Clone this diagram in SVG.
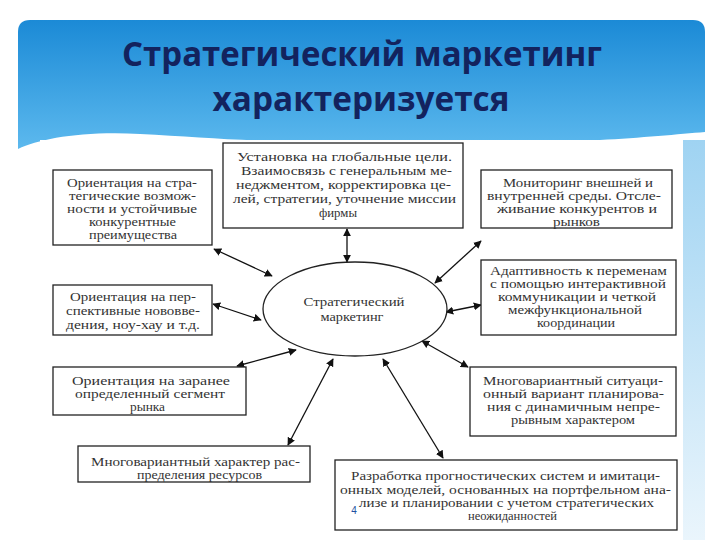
<svg xmlns="http://www.w3.org/2000/svg" width="720" height="540" viewBox="0 0 720 540">
<style>
.box{fill:#fff;stroke:#222;stroke-width:1.3}
.bt{font-family:"Liberation Serif","Noto Serif","DejaVu Serif","Times New Roman",serif;font-size:12px;fill:#333;text-anchor:middle}
.title{font-family:"Open Sans","Noto Sans",sans-serif;font-weight:bold;font-size:34px;fill:#13235e;text-anchor:middle}
.conn{stroke:#111;stroke-width:1.3;fill:none;marker-start:url(#ah);marker-end:url(#ah)}
</style>
<defs>
<linearGradient id="hdr" x1="0" y1="0" x2="0" y2="1">
<stop offset="0" stop-color="#1b8ad6"/>
<stop offset="1" stop-color="#62bdf0"/>
</linearGradient>
<linearGradient id="side" x1="0" y1="0" x2="0" y2="1">
<stop offset="0" stop-color="#9fd3f2"/>
<stop offset="1" stop-color="#eaf5fc"/>
</linearGradient>
<marker id="ah" viewBox="0 0 10 10" refX="9" refY="5" markerWidth="8" markerHeight="8" markerUnits="userSpaceOnUse" orient="auto-start-reverse">
<path d="M0,0 L10,5 L0,10 Z" fill="#111"/>
</marker>
</defs>
<rect width="720" height="540" fill="#fff"/>
<g id="header">
<path d="M18,32 Q18,20 30,20 L693,20 Q705,20 705,32 L705,160 L18,160 Z" fill="url(#hdr)"/>
<rect x="683" y="140" width="22" height="400" fill="url(#side)"/>
<path d="M18,160 L18,149 C40,139 80,131 140,134 C200,137 250,142 310,141 L600,140 C640,138 680,134 705,132 L705,140 L683,140 L683,160 Z" fill="#fff"/>
<rect x="40" y="140" width="643" height="20" fill="#fff"/>
<text class="title" x="362" y="66" textLength="480" lengthAdjust="spacingAndGlyphs">Стратегический маркетинг</text>
<text class="title" x="361" y="111" textLength="297" lengthAdjust="spacingAndGlyphs">характеризуется</text>
</g>
<g id="connectors">
<line class="conn" x1="347" y1="229" x2="347" y2="262"/>
<line class="conn" x1="214" y1="249" x2="272" y2="276"/>
<line class="conn" x1="481" y1="241" x2="435" y2="283"/>
<line class="conn" x1="213" y1="304" x2="261" y2="320"/>
<line class="conn" x1="481" y1="305" x2="446" y2="312"/>
<line class="conn" x1="296" y1="350" x2="237" y2="366"/>
<line class="conn" x1="422" y1="341" x2="468" y2="367"/>
<line class="conn" x1="333" y1="359" x2="288" y2="445"/>
<line class="conn" x1="383" y1="359" x2="443" y2="458"/>
</g>
<g id="center">
<ellipse cx="355" cy="309" rx="92" ry="47" fill="#fff" stroke="#222" stroke-width="1.3"/>
<text class="bt" x="354" y="306" textLength="101" lengthAdjust="spacingAndGlyphs">Стратегический</text>
<text class="bt" x="352" y="321" textLength="63" lengthAdjust="spacingAndGlyphs">маркетинг</text>
</g>
<g id="n1">
<rect class="box" x="53" y="170" width="159" height="75"/>
<text class="bt" x="132" y="187" textLength="130" lengthAdjust="spacingAndGlyphs">Ориентация на стра-</text>
<text class="bt" x="132.5" y="200" textLength="127" lengthAdjust="spacingAndGlyphs">тегические возмож-</text>
<text class="bt" x="132" y="213" textLength="130" lengthAdjust="spacingAndGlyphs">ности и устойчивые</text>
<text class="bt" x="132.5" y="226" textLength="87" lengthAdjust="spacingAndGlyphs">конкурентные</text>
<text class="bt" x="133" y="239" textLength="88" lengthAdjust="spacingAndGlyphs">преимущества</text>
</g>
<g id="n2">
<rect class="box" x="223" y="143" width="240" height="85"/>
<text class="bt" x="344.5" y="161" textLength="215" lengthAdjust="spacingAndGlyphs">Установка на глобальные цели.</text>
<text class="bt" x="346.5" y="175" textLength="211" lengthAdjust="spacingAndGlyphs">Взаимосвязь с генеральным ме-</text>
<text class="bt" x="343.5" y="189" textLength="215" lengthAdjust="spacingAndGlyphs">неджментом, корректировка це-</text>
<text class="bt" x="344.5" y="203" textLength="223" lengthAdjust="spacingAndGlyphs">лей, стратегии, уточнение миссии</text>
<text class="bt" x="338" y="217" textLength="38" lengthAdjust="spacingAndGlyphs">фирмы</text>
</g>
<g id="n3">
<rect class="box" x="481" y="170" width="191" height="58"/>
<text class="bt" x="578" y="187" textLength="150" lengthAdjust="spacingAndGlyphs">Мониторинг внешней и</text>
<text class="bt" x="574" y="200" textLength="174" lengthAdjust="spacingAndGlyphs">внутренней среды. Отсле-</text>
<text class="bt" x="577" y="213" textLength="160" lengthAdjust="spacingAndGlyphs">живание конкурентов и</text>
<text class="bt" x="576.5" y="226" textLength="47" lengthAdjust="spacingAndGlyphs">рынков</text>
</g>
<g id="n4">
<rect class="box" x="53" y="285" width="159" height="50"/>
<text class="bt" x="133" y="301" textLength="126" lengthAdjust="spacingAndGlyphs">Ориентация на пер-</text>
<text class="bt" x="133" y="315" textLength="134" lengthAdjust="spacingAndGlyphs">спективные нововве-</text>
<text class="bt" x="133" y="329" textLength="134" lengthAdjust="spacingAndGlyphs">дения, ноу-хау и т.д.</text>
</g>
<g id="n5">
<rect class="box" x="481" y="260" width="195" height="75"/>
<text class="bt" x="578.5" y="275" textLength="177" lengthAdjust="spacingAndGlyphs">Адаптивность к переменам</text>
<text class="bt" x="578" y="288" textLength="176" lengthAdjust="spacingAndGlyphs">с помощью интерактивной</text>
<text class="bt" x="577" y="301" textLength="158" lengthAdjust="spacingAndGlyphs">коммуникации и четкой</text>
<text class="bt" x="575" y="314" textLength="134" lengthAdjust="spacingAndGlyphs">межфункциональной</text>
<text class="bt" x="576" y="327" textLength="78" lengthAdjust="spacingAndGlyphs">координации</text>
</g>
<g id="n6">
<rect class="box" x="53" y="367" width="193" height="48"/>
<text class="bt" x="151" y="385" textLength="158" lengthAdjust="spacingAndGlyphs">Ориентация на заранее</text>
<text class="bt" x="150" y="398" textLength="150" lengthAdjust="spacingAndGlyphs">определенный сегмент</text>
<text class="bt" x="147.5" y="411" textLength="35" lengthAdjust="spacingAndGlyphs">рынка</text>
</g>
<g id="n7">
<rect class="box" x="470" y="367" width="206" height="69"/>
<text class="bt" x="573" y="385" textLength="180" lengthAdjust="spacingAndGlyphs">Многовариантный ситуаци-</text>
<text class="bt" x="573.5" y="398" textLength="181" lengthAdjust="spacingAndGlyphs">онный вариант планирова-</text>
<text class="bt" x="573.5" y="411" textLength="173" lengthAdjust="spacingAndGlyphs">ния с динамичным непре-</text>
<text class="bt" x="573" y="424" textLength="124" lengthAdjust="spacingAndGlyphs">рывным характером</text>
</g>
<g id="n8">
<rect class="box" x="78" y="446" width="232" height="36"/>
<text class="bt" x="195.5" y="466" textLength="209" lengthAdjust="spacingAndGlyphs">Многовариантный характер рас-</text>
<text class="bt" x="199.5" y="479" textLength="125" lengthAdjust="spacingAndGlyphs">пределения ресурсов</text>
</g>
<g id="n9">
<rect class="box" x="335" y="460" width="342" height="70"/>
<text class="bt" x="505.5" y="480" textLength="309" lengthAdjust="spacingAndGlyphs">Разработка прогностических систем и имитаци-</text>
<text class="bt" x="505.5" y="494" textLength="331" lengthAdjust="spacingAndGlyphs">онных моделей, основанных на портфельном ана-</text>
<text class="bt" x="506.5" y="507" textLength="295" lengthAdjust="spacingAndGlyphs">лизе и планировании с учетом стратегических</text>
<text class="bt" x="512.5" y="520" textLength="89" lengthAdjust="spacingAndGlyphs">неожиданностей</text>
</g>
<text x="354" y="514" font-family="Liberation Sans, sans-serif" font-size="10" fill="#2050a0" text-anchor="middle">4</text>
</svg>
